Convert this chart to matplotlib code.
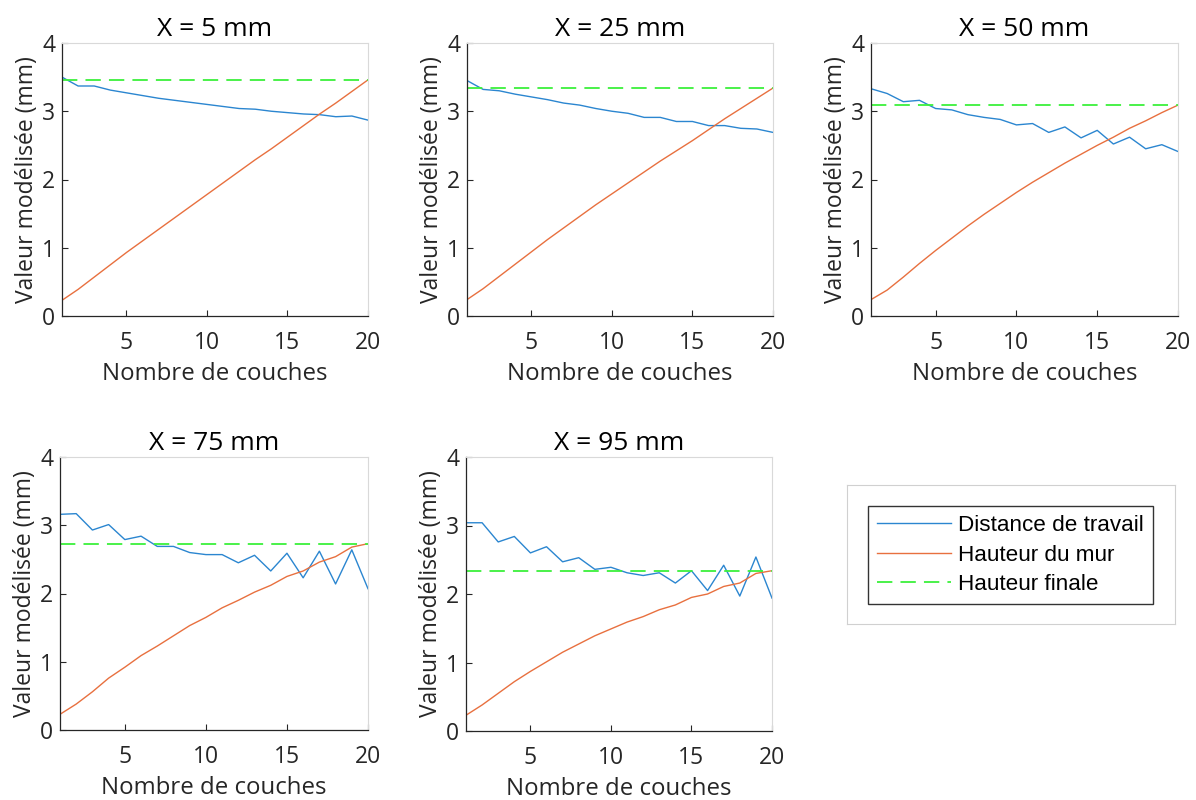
"""
Distance de travail / hauteur du mur vs nombre de couches, 5 positions X
"""
import matplotlib
matplotlib.use("Agg")
import matplotlib.pyplot as plt
from matplotlib.lines import Line2D

plt.rcParams.update({
    "font.family": ["Open Sans", "DejaVu Sans"],
    "axes.edgecolor": "#262626",
    "xtick.color": "#262626",
    "ytick.color": "#262626",
    "xtick.labelcolor": "#262626",
    "ytick.labelcolor": "#262626",
})

couches = list(range(1, 21))
titles = ["X = 5 mm", "X = 25 mm", "X = 50 mm", "X = 75 mm", "X = 95 mm"]

# Distance de travail (mm)
dist_5 = [3.50, 3.37, 3.37, 3.31, 3.27, 3.23, 3.19, 3.16, 3.13, 3.10,
          3.07, 3.04, 3.03, 3.00, 2.98, 2.96, 2.95, 2.92, 2.93, 2.87]
dist_25 = [3.45, 3.32, 3.30, 3.25, 3.21, 3.17, 3.12, 3.09, 3.04, 3.00,
           2.97, 2.91, 2.91, 2.85, 2.85, 2.79, 2.79, 2.75, 2.74, 2.69]
dist_50 = [3.33, 3.26, 3.14, 3.16, 3.04, 3.02, 2.95, 2.91, 2.88, 2.80,
           2.82, 2.69, 2.77, 2.61, 2.72, 2.52, 2.62, 2.45, 2.51, 2.41]
dist_75 = [3.16, 3.17, 2.93, 3.01, 2.79, 2.84, 2.69, 2.69, 2.60, 2.57,
           2.57, 2.45, 2.56, 2.33, 2.59, 2.23, 2.62, 2.14, 2.64, 2.07]
dist_95 = [3.04, 3.04, 2.76, 2.84, 2.60, 2.69, 2.47, 2.53, 2.36, 2.39,
           2.31, 2.27, 2.31, 2.16, 2.34, 2.05, 2.42, 1.97, 2.54, 1.94]

# Hauteur du mur (mm)
haut_5 = [0.23, 0.39, 0.57, 0.75, 0.93, 1.10, 1.27, 1.44, 1.61, 1.78,
          1.95, 2.12, 2.29, 2.45, 2.62, 2.79, 2.96, 3.12, 3.29, 3.46]
haut_25 = [0.24, 0.40, 0.58, 0.76, 0.94, 1.12, 1.29, 1.46, 1.63, 1.79,
           1.95, 2.11, 2.27, 2.42, 2.57, 2.73, 2.89, 3.04, 3.19, 3.34]
haut_50 = [0.24, 0.38, 0.57, 0.77, 0.96, 1.14, 1.32, 1.49, 1.65, 1.81,
           1.96, 2.10, 2.24, 2.37, 2.50, 2.62, 2.75, 2.86, 2.98, 3.09]
haut_75 = [0.23, 0.38, 0.56, 0.76, 0.92, 1.09, 1.23, 1.38, 1.53, 1.65,
           1.79, 1.90, 2.02, 2.12, 2.25, 2.33, 2.46, 2.54, 2.68, 2.73]
haut_95 = [0.23, 0.38, 0.55, 0.72, 0.87, 1.01, 1.15, 1.27, 1.39, 1.49,
           1.59, 1.67, 1.77, 1.84, 1.95, 2.00, 2.11, 2.16, 2.30, 2.34]

# Hauteur finale (mm)
finale = [3.46, 3.34, 3.09, 2.73, 2.34]

distances = [dist_5, dist_25, dist_50, dist_75, dist_95]
hauteurs = [haut_5, haut_25, haut_50, haut_75, haut_95]

BLUE = "#2b86d0"
ORANGE = "#e8703f"
GREEN = "#3cf03c"
DASH = (0, (8.5, 4.5))

W, H = 1196, 800
# axes boxes in pixels: left, top, right, bottom
boxes = [(62, 43, 368, 316), (467, 43, 773, 316), (871, 43, 1178, 316),
         (60, 457, 368, 730), (466, 457, 772, 731)]

fig = plt.figure(figsize=(W / 100, H / 100), dpi=100)

for i, (l, t, r, b) in enumerate(boxes):
    ax = fig.add_axes([l / W, 1 - b / H, (r - l) / W, (b - t) / H])
    ax.plot(couches, distances[i], color=BLUE, lw=1.0)
    ax.plot(couches, hauteurs[i], color=ORANGE, lw=1.0)
    ax.plot([1, 20], [finale[i], finale[i]], color=GREEN, lw=1.3, ls=DASH)
    ax.set_xlim(1, 20)
    ax.set_ylim(0, 4)
    ax.set_xticks([5, 10, 15, 20])
    ax.set_yticks([0, 1, 2, 3, 4])
    ax.tick_params(direction="in", length=4, width=0.8, labelsize=16.5)
    ax.tick_params(axis="x", pad=11)
    ax.tick_params(axis="y", pad=5)
    for s in ["top", "right"]:
        ax.spines[s].set_color("#d9d9d9")
    for s in ["left", "bottom"]:
        ax.spines[s].set_linewidth(0.9)
    ax.set_title(titles[i], fontsize=19, pad=5)
    ax.set_xlabel("Nombre de couches", fontsize=17.3, labelpad=5, color="#262626")
    ax.set_ylabel("Valeur modélisée (mm)", fontsize=16.5, labelpad=2, color="#262626")

# legend box in the empty sixth slot
lax = fig.add_axes([847 / W, 1 - 624 / H, 328 / W, 139 / H])
lax.set_xticks([])
lax.set_yticks([])
for s in lax.spines.values():
    s.set_color("#d0d0d0")
handles = [Line2D([], [], color=BLUE, lw=1.0),
           Line2D([], [], color=ORANGE, lw=1.0),
           Line2D([], [], color=GREEN, lw=1.3, ls=DASH)]
labels = ["Distance de travail", "Hauteur du mur", "Hauteur finale"]
leg = lax.legend(handles, labels, loc="upper left",
                 bbox_to_anchor=(868 / W, 1 - 506 / H), bbox_transform=fig.transFigure,
                 borderaxespad=0, fancybox=False, framealpha=1, edgecolor="#333333",
                 prop={"family": "Liberation Sans", "size": 16.2},
                 handlelength=3.3, handletextpad=0.3, labelspacing=0.38, borderpad=0.4)
leg.get_frame().set_linewidth(1.0)

fig.savefig("out.png", dpi=100)
